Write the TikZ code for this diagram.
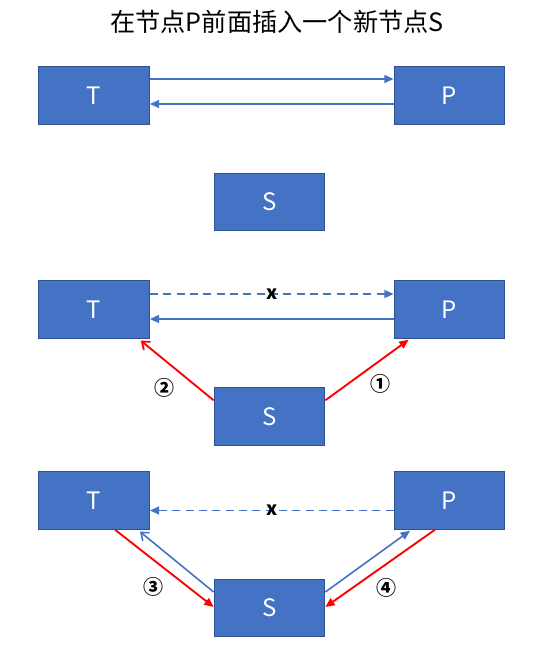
\documentclass[tikz,border=0pt]{standalone}
\usepackage{fontspec}
\newfontfamily\cjk{Noto Sans CJK SC}
\usetikzlibrary{arrows.meta,calc}
\definecolor{boxblue}{HTML}{4472C4}
\definecolor{boxline}{HTML}{2F528F}
\definecolor{linkred}{HTML}{FF0000}
\tikzset{
  listnode/.style={draw=boxline, fill=boxblue, line width=0.8pt, minimum width=83pt, minimum height=43pt, inner sep=0pt, text=white, font=\cjk\fontsize{18}{18}\selectfont},
  bluelink/.style={draw=boxblue, line width=1.2pt, -{Triangle[length=7pt,width=6pt]}},
  bluebarb/.style={draw=boxblue, line width=1.2pt, -{Straight Barb[length=5pt,width=8pt]}},
  redlink/.style={draw=linkred, line width=1.4pt, -{Triangle[length=7pt,width=6pt]}},
  redbarb/.style={draw=linkred, line width=1.4pt, -{Straight Barb[length=5pt,width=8pt]}},
  broken/.style={dash pattern=on 6pt off 4pt},
  cut/.style={font=\cjk\bfseries\fontsize{14}{14}\selectfont, inner sep=0pt, text=black},
  numlabel/.style={font=\cjk\bfseries\fontsize{15}{15}\selectfont, inner sep=0pt}
}
\begin{document}
\begin{tikzpicture}[x=0.75pt, y=-0.75pt]
\useasboundingbox (0,0) rectangle (547,655);
\node[font=\cjk\fontsize{18.9}{18.9}\selectfont] (title) at (277,22) {在节点P前面插入一个新节点S};

% before
\node[listnode] (T1) at (94,95.5) {T};
\node[listnode] (P1) at (449.5,95.5) {P};
\node[listnode] (S1) at (269.5,202) {S};
\path[bluelink] ($(T1.east)+(0,-16.5)$) -- ($(P1.west)+(0,-16.5)$);
\path[bluelink] ($(P1.west)+(0,8.5)$) -- ($(T1.east)+(0,8.5)$);

% steps 1 and 2
\node[listnode] (T2) at (94,309.5) {T};
\node[listnode] (P2) at (449.5,309.5) {P};
\node[listnode] (S2) at (269.5,416.5) {S};
\path[bluelink,broken] ($(T2.east)+(0,-15.5)$) -- node[cut] {x} ($(P2.west)+(0,-15.5)$);
\path[bluelink] ($(P2.west)+(0,9.5)$) -- ($(T2.east)+(0,9.5)$);
\path[redbarb] ($(S2.north west)+(0,13)$) -- ($(T2.south east)+(-9,2)$);
\path[redlink] ($(S2.north east)+(0,13)$) -- ($(P2.south west)+(15,1)$);
\node[numlabel] (n2) at (164,388) {②};
\node[numlabel] (n1) at (380,384) {①};

% steps 3 and 4
\node[listnode] (T3) at (94,500.5) {T};
\node[listnode] (P3) at (449.5,500.5) {P};
\node[listnode] (S3) at (269.5,608) {S};
\path[bluelink,broken] ($(P3.west)+(0,10)$) -- node[cut] {x} ($(T3.east)+(0,10)$);
\path[redlink] ($(T3.south)+(21,0)$) -- ($(S3.west)+(0,-1)$);
\path[bluebarb] ($(S3.west)+(0,-16)$) -- ($(T3.south)+(46,2)$);
\path[bluelink] ($(S3.east)+(0,-16)$) -- ($(P3.south)+(-39.5,1)$);
\path[redlink] ($(P3.south)+(-14.5,0)$) -- ($(S3.east)+(0,-1)$);
\node[numlabel] (n3) at (153,587) {③};
\node[numlabel] (n4) at (386,588) {④};
\end{tikzpicture}
\end{document}
